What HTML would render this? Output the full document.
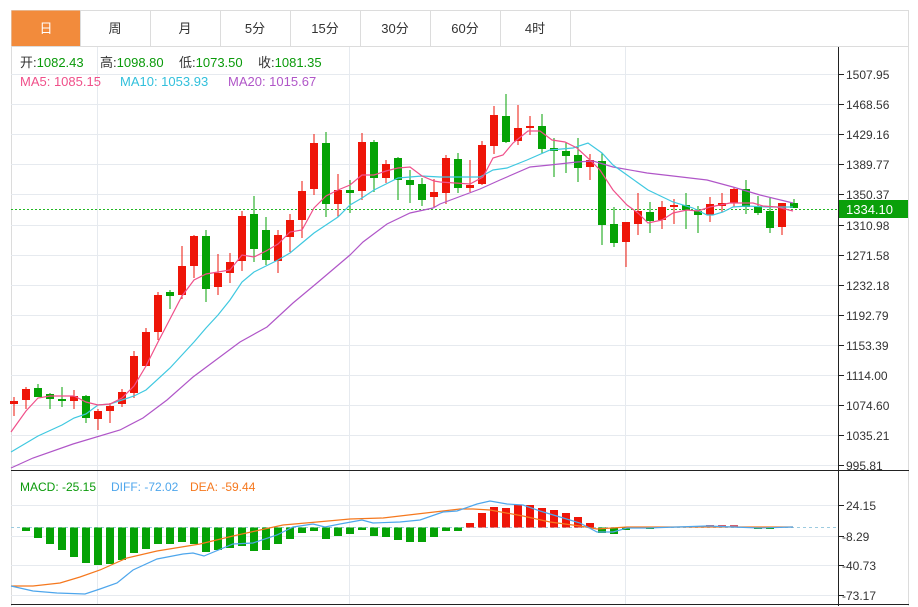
<!DOCTYPE html>
<html><head><meta charset="utf-8"><style>
body{margin:0;background:#fff;width:918px;height:607px;overflow:hidden;font-family:"Liberation Sans","Noto Sans CJK SC",sans-serif}
svg{position:absolute;left:0;top:0}
</style></head><body>
<svg width="918" height="607" xmlns="http://www.w3.org/2000/svg" font-family="Liberation Sans, Noto Sans CJK SC, sans-serif">
<rect x="11.5" y="10.5" width="897" height="36" fill="#fff" stroke="#dcdcdc"/>
<rect x="11.5" y="10.5" width="69" height="36" fill="#f28b3c"/>
<g stroke="#dcdcdc"><line x1="150.5" y1="10" x2="150.5" y2="46"/><line x1="220.5" y1="10" x2="220.5" y2="46"/><line x1="290.5" y1="10" x2="290.5" y2="46"/><line x1="360.5" y1="10" x2="360.5" y2="46"/><line x1="430.5" y1="10" x2="430.5" y2="46"/><line x1="500.5" y1="10" x2="500.5" y2="46"/><line x1="570.5" y1="10" x2="570.5" y2="46"/><line x1="80.5" y1="10" x2="80.5" y2="46"/></g>
<g font-size="13" text-anchor="middle" fill="#333"><text x="46" y="33" fill="#fff">日</text><text x="115" y="33">周</text><text x="185" y="33">月</text><text x="255" y="33">5分</text><text x="325" y="33">15分</text><text x="395" y="33">30分</text><text x="465" y="33">60分</text><text x="535" y="33">4时</text></g>
<line x1="11.5" y1="46" x2="11.5" y2="606" stroke="#dcdcdc"/>
<line x1="908.5" y1="46" x2="908.5" y2="606" stroke="#dcdcdc"/>
<g stroke="#e6eaef">
<line x1="11" y1="74.5" x2="838" y2="74.5"/><line x1="11" y1="104.5" x2="838" y2="104.5"/><line x1="11" y1="134.5" x2="838" y2="134.5"/><line x1="11" y1="164.5" x2="838" y2="164.5"/><line x1="11" y1="194.5" x2="838" y2="194.5"/><line x1="11" y1="225.5" x2="838" y2="225.5"/><line x1="11" y1="255.5" x2="838" y2="255.5"/><line x1="11" y1="285.5" x2="838" y2="285.5"/><line x1="11" y1="315.5" x2="838" y2="315.5"/><line x1="11" y1="345.5" x2="838" y2="345.5"/><line x1="11" y1="375.5" x2="838" y2="375.5"/><line x1="11" y1="405.5" x2="838" y2="405.5"/><line x1="11" y1="435.5" x2="838" y2="435.5"/><line x1="11" y1="465.5" x2="838" y2="465.5"/>
<line x1="11" y1="505.5" x2="838" y2="505.5"/><line x1="11" y1="536.5" x2="838" y2="536.5"/><line x1="11" y1="565.5" x2="838" y2="565.5"/><line x1="11" y1="595.5" x2="838" y2="595.5"/>
<line x1="97.5" y1="46" x2="97.5" y2="605"/><line x1="349.5" y1="46" x2="349.5" y2="605"/><line x1="625.5" y1="46" x2="625.5" y2="605"/>
</g>
<line x1="11" y1="46.5" x2="909" y2="46.5" stroke="#dcdcdc"/>
<line x1="838.5" y1="47" x2="838.5" y2="606" stroke="#222"/>
<line x1="11" y1="470.5" x2="909" y2="470.5" stroke="#222"/>
<line x1="11" y1="604.5" x2="909" y2="604.5" stroke="#222"/>
<g stroke="#222"><line x1="838" y1="74.5" x2="844" y2="74.5"/><line x1="838" y1="104.5" x2="844" y2="104.5"/><line x1="838" y1="134.5" x2="844" y2="134.5"/><line x1="838" y1="164.5" x2="844" y2="164.5"/><line x1="838" y1="194.5" x2="844" y2="194.5"/><line x1="838" y1="225.5" x2="844" y2="225.5"/><line x1="838" y1="255.5" x2="844" y2="255.5"/><line x1="838" y1="285.5" x2="844" y2="285.5"/><line x1="838" y1="315.5" x2="844" y2="315.5"/><line x1="838" y1="345.5" x2="844" y2="345.5"/><line x1="838" y1="375.5" x2="844" y2="375.5"/><line x1="838" y1="405.5" x2="844" y2="405.5"/><line x1="838" y1="435.5" x2="844" y2="435.5"/><line x1="838" y1="465.5" x2="844" y2="465.5"/><line x1="838" y1="505.5" x2="844" y2="505.5"/><line x1="838" y1="536.5" x2="844" y2="536.5"/><line x1="838" y1="565.5" x2="844" y2="565.5"/><line x1="838" y1="595.5" x2="844" y2="595.5"/></g>
<g font-size="12" fill="#333">
<text x="846" y="79">1507.95</text><text x="846" y="109">1468.56</text><text x="846" y="139">1429.16</text><text x="846" y="169">1389.77</text><text x="846" y="199">1350.37</text><text x="846" y="230">1310.98</text><text x="846" y="260">1271.58</text><text x="846" y="290">1232.18</text><text x="846" y="320">1192.79</text><text x="846" y="350">1153.39</text><text x="846" y="380">1114.00</text><text x="846" y="410">1074.60</text><text x="846" y="440">1035.21</text><text x="846" y="470">995.81</text>
<text x="846" y="510">24.15</text><text x="842" y="541">-8.29</text><text x="842" y="570">-40.73</text><text x="842" y="600">-73.17</text>
</g>
<g font-size="13">
<text x="20" y="67" fill="#333">开:<tspan fill="#0a9a0a">1082.43</tspan></text>
<text x="100" y="67" fill="#333">高:<tspan fill="#0a9a0a">1098.80</tspan></text>
<text x="179" y="67" fill="#333">低:<tspan fill="#0a9a0a">1073.50</tspan></text>
<text x="258" y="67" fill="#333">收:<tspan fill="#0a9a0a">1081.35</tspan></text>
<text x="20" y="86" fill="#f0508a">MA5: 1085.15</text>
<text x="120" y="86" fill="#32c0dc">MA10: 1053.93</text>
<text x="228" y="86" fill="#b056c8">MA20: 1015.67</text>
<text x="20" y="491" font-size="12" fill="#0a9a0a">MACD: -25.15</text>
<text x="111" y="491" font-size="12" fill="#4ea6ec">DIFF: -72.02</text>
<text x="190" y="491" font-size="12" fill="#f5781e">DEA: -59.44</text>
</g>
<line x1="11" y1="209.5" x2="838" y2="209.5" stroke="#22b822" stroke-dasharray="2,2"/>
<rect x="839" y="200" width="69" height="18" fill="#0aa00a"/>
<text x="846" y="214" font-size="13" fill="#fff">1334.10</text>
<g id="c"></g>
<polyline fill="none" stroke="#b056c8" stroke-width="1.2" points="11,468 33,458 73,444 120,430 143,418 167,400 193,377 240,342 267,327 293,303 317,283 350,255 363,242 387,224 410,213 433,208 440,204 480,189 500,180 530,167 550,165 577,162 593,161 613,167 647,173 673,176 707,180 733,187 760,195 793,203"/>
<polyline fill="none" stroke="#3fc8e0" stroke-width="1.2" points="11,452 38,436 62,425 74,418 86,414 98,405 110,404 122,400 134,396 146,390 170,368 194,342 206,328 218,315 230,300 242,282 254,272 266,266 278,260 290,253 302,243 314,233 326,225 338,217 350,205 362,198 374,190 386,184 398,178 410,177 422,176 440,177 480,177 493,170 507,168 527,160 550,150 573,148 588,143 602,153 613,165 627,175 648,190 673,202 693,208 707,215 713,215 723,212 733,207 747,206 767,207 793,207"/>
<polyline fill="none" stroke="#f0508a" stroke-width="1.2" points="11,432 26,411 38,398 50,396 74,396 86,402 98,405 110,404 122,398 134,386 146,366 158,342 170,319 182,296 194,280 206,274 218,272 230,270 242,255 254,257 266,251 278,244 290,232 302,230 314,208 326,196 338,190 350,185 362,175 374,175 386,171 398,168 410,167 422,176 434,181 440,182 470,184 483,177 493,158 503,155 513,143 528,131 540,131 552,140 565,142 577,148 590,160 600,170 613,190 627,205 638,213 648,223 662,220 673,213 687,210 698,211 710,207 730,203 753,203 763,206 777,207 793,211"/>
<line x1="11" y1="527.5" x2="838" y2="527.5" stroke="#9ccbe0" stroke-dasharray="3,3"/>
<g id="m"></g>
<polyline fill="none" stroke="#f5781e" stroke-width="1.2" points="11,586 33,586 60,583 80,577 100,570 127,558 157,551 200,544 233,536 260,530 283,525 317,522 350,519 383,518 417,514 443,511 460,509 473,509 490,510 523,516 550,522 580,526 597,529 627,527 707,527 793,527"/>
<polyline fill="none" stroke="#4ea6ec" stroke-width="1.2" points="11,586 33,591 57,593 85,594 100,589 117,583 133,570 157,559 183,554 193,553 204,556 233,544 253,543 277,535 293,527 313,524 325,527 340,524 362,520 373,523 400,522 420,520 443,512 457,511 477,504 490,501 507,504 523,505 540,511 560,517 580,523 597,532 613,532 627,528 647,528 707,526 733,527 760,528 793,527"/>
</svg>
<script>
var R="#ee1508",G="#05a205";
var C=[[14,401,404,397,416,R],[26,389,400,387,409,R],[38,388,397,384,397,G],[50,394,399,393,409,G],[62,399,401,387,407,G],[74,396,401,390,409,R],[86,396,418,395,423,G],[98,411,419,409,430,R],[110,406,411,403,423,R],[122,392,404,389,407,R],[134,356,393,351,398,R],[146,332,366,328,366,R],[158,295,332,292,340,R],[170,292,296,290,309,G],[182,266,295,246,299,R],[194,236,266,235,278,R],[206,236,289,230,302,G],[218,273,287,254,295,R],[230,262,273,253,283,R],[242,216,261,211,271,R],[254,214,249,196,262,G],[266,230,260,217,265,G],[278,235,261,230,273,R],[290,220,237,214,252,R],[302,191,220,181,238,R],[314,143,189,134,195,R],[326,143,204,132,217,G],[338,190,204,174,217,R],[350,190,193,180,213,G],[362,142,191,133,200,R],[374,142,178,140,192,G],[386,164,178,160,183,R],[398,158,180,157,200,G],[410,180,185,170,203,G],[422,184,200,178,206,G],[434,192,197,179,208,R],[446,158,193,155,204,R],[458,159,188,153,193,G],[470,185,188,160,192,R],[482,145,184,141,185,R],[494,115,146,106,154,R],[506,116,142,94,143,G],[518,128,141,105,145,R],[530,126,128,116,135,R],[542,126,149,114,153,G],[554,148,151,138,177,G],[566,151,156,142,173,G],[578,155,168,138,182,G],[590,160,167,154,180,R],[602,161,225,153,245,G],[614,224,243,207,247,G],[626,222,242,222,267,R],[638,211,224,193,235,R],[650,212,221,202,233,G],[662,207,220,201,229,R],[674,205,207,199,224,R],[686,205,210,193,229,G],[698,211,215,206,233,G],[710,204,215,197,222,R],[722,203,206,193,212,R],[734,189,203,187,207,R],[746,189,207,180,214,G],[758,206,213,196,215,G],[770,211,228,197,233,G],[782,203,227,203,235,R],[794,203,208,199,208,G]];
var s="";C.forEach(function(c){s+='<rect x="'+(c[0]-0.5)+'" y="'+c[3]+'" width="1" height="'+(c[4]-c[3])+'" fill="'+c[5]+'"/><rect x="'+(c[0]-4)+'" y="'+c[1]+'" width="8" height="'+Math.max(1,c[2]-c[1])+'" fill="'+c[5]+'"/>';});
document.getElementById("c").innerHTML=s;
var M=[[26,531],[38,538],[50,544],[62,550],[74,557],[86,563],[98,565],[110,564],[122,560],[134,553],[146,549],[158,544],[170,544],[182,542],[194,544],[206,552],[218,550],[230,548],[242,546],[254,551],[266,550],[278,544],[290,539],[302,533],[314,531],[326,539],[338,536],[350,534],[362,530],[374,536],[386,537],[398,540],[410,542],[422,542],[434,537],[446,531],[458,531],[470,523],[482,513],[494,507],[506,508],[518,505],[530,505],[542,508],[554,510],[566,513],[578,517],[590,523],[602,533],[614,534],[626,530],[650,529],[710,525],[722,525],[734,525],[758,529],[770,529]];
var z=527.5,t="";M.forEach(function(m){var y=m[1],col=y<z?R:G;if(m[0]>=700&&m[0]<=740)col="#d06070";var top=Math.min(y,z),h=Math.max(1,Math.abs(y-z));t+='<rect x="'+(m[0]-4)+'" y="'+top+'" width="8" height="'+h+'" fill="'+col+'"/>';});
document.getElementById("m").innerHTML=t;
</script>
</body></html>
